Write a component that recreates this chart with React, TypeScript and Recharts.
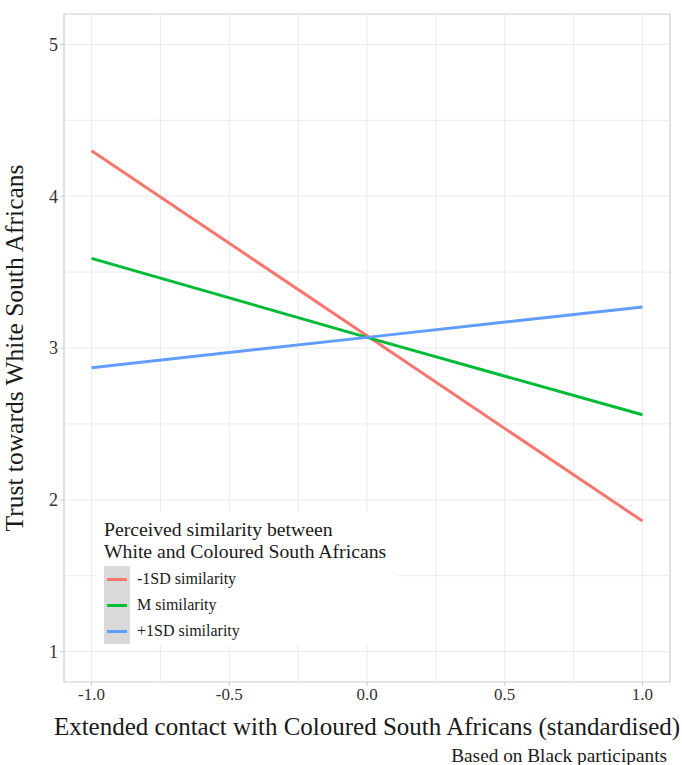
import {
  CartesianGrid,
  Label,
  Line,
  LineChart,
  ReferenceArea,
  XAxis,
  YAxis,
} from "recharts";

const contact = [-1, 0, 1];
const lowSimilarity = [4.3, 3.08, 1.86];
const meanSimilarity = [3.59, 3.07, 2.56];
const highSimilarity = [2.87, 3.07, 3.27];

const xTicks = [-1, -0.5, 0, 0.5, 1];
const yTicks = [1, 2, 3, 4, 5];
const xGrid = [-1, -0.75, -0.5, -0.25, 0, 0.25, 0.5, 0.75, 1];
const yGrid = [1, 1.5, 2, 2.5, 3, 3.5, 4, 4.5, 5];

const series = [
  { key: "low", name: "-1SD similarity", colour: "#F8766D" },
  { key: "mean", name: "M similarity", colour: "#00BA38" },
  { key: "high", name: "+1SD similarity", colour: "#619CFF" },
];

const data = contact.map((x, i) => ({
  x,
  low: lowSimilarity[i],
  mean: meanSimilarity[i],
  high: highSimilarity[i],
}));

const FONT = "'Liberation Serif', serif";

// ggplot-style legend sitting inside the panel
function SimilarityLegend() {
  return (
    <div
      style={{
        position: "absolute",
        left: 97,
        top: 512,
        width: 301,
        height: 133,
        boxSizing: "border-box",
        background: "#fff",
        padding: "6px 0 0 7px",
        fontFamily: FONT,
        color: "#1a1a1a",
      }}
    >
      <div style={{ fontSize: 19.7, lineHeight: "22px", whiteSpace: "nowrap" }}>
        Perceived similarity between
        <br />
        White and Coloured South Africans
      </div>
      <div style={{ display: "flex", marginTop: 4 }}>
        <div style={{ background: "#d9d9d9", width: 26 }}>
          {series.map((s) => (
            <div key={s.key} style={{ height: 26, display: "flex", alignItems: "center", justifyContent: "center" }}>
              <div style={{ width: 20, height: 3, background: s.colour }} />
            </div>
          ))}
        </div>
        <div style={{ marginLeft: 7 }}>
          {series.map((s) => (
            <div key={s.key} style={{ height: 26, lineHeight: "26px", fontSize: 16 }}>
              {s.name}
            </div>
          ))}
        </div>
      </div>
    </div>
  );
}

export default function App() {
  return (
    <div style={{ position: "absolute", left: 0, top: 0, width: 682, height: 765, background: "#fff" }}>
      <LineChart width={682} height={765} data={data} margin={{ top: 14, right: 12, left: 0, bottom: 0 }}>
        <CartesianGrid stroke="#ebebeb" verticalValues={xGrid} horizontalValues={yGrid} />
        <ReferenceArea x1={-1.1} x2={1.1} y1={0.8} y2={5.2} fill="none" stroke="#cccccc" strokeWidth={1.2} />
        <XAxis
          type="number"
          dataKey="x"
          domain={[-1.1, 1.1]}
          ticks={xTicks}
          tickFormatter={(v: number) => v.toFixed(1)}
          axisLine={false}
          tickLine={{ stroke: "#cccccc" }}
          tickSize={4}
          height={83}
          tick={{ fontSize: 17, fill: "#333", fontFamily: FONT }}
          interval={0}
        >
          <Label
            value="Extended contact with Coloured South Africans (standardised)"
            position="insideBottom"
            offset={30}
            style={{ fontSize: 25, fill: "#1a1a1a", fontFamily: FONT }}
          />
          <Label
            value="Based on Black participants"
            position="insideBottomRight"
            offset={3}
            style={{ fontSize: 19.3, fill: "#1a1a1a", fontFamily: FONT }}
          />
        </XAxis>
        <YAxis
          type="number"
          domain={[0.8, 5.2]}
          ticks={yTicks}
          axisLine={false}
          tickLine={{ stroke: "#cccccc" }}
          tickSize={4}
          width={64}
          tick={{ fontSize: 18, fill: "#333", fontFamily: FONT }}
          interval={0}
        >
          <Label
            value="Trust towards White South Africans"
            angle={-90}
            position="insideLeft"
            offset={14}
            style={{ fontSize: 25.5, fill: "#1a1a1a", fontFamily: FONT, textAnchor: "middle" }}
          />
        </YAxis>
        {series.map((s) => (
          <Line
            key={s.key}
            dataKey={s.key}
            name={s.name}
            stroke={s.colour}
            strokeWidth={3}
            dot={false}
            activeDot={false}
            isAnimationActive={false}
          />
        ))}
      </LineChart>
      <SimilarityLegend />
    </div>
  );
}
